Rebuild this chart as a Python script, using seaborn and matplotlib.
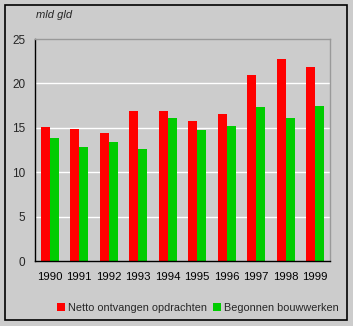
import matplotlib
matplotlib.use("Agg")
import matplotlib.pyplot as plt
import seaborn as sns
import pandas as pd
import numpy as np
from matplotlib.patches import Rectangle

years = ["1990", "1991", "1992", "1993", "1994", "1995", "1996", "1997", "1998", "1999"]
netto = [15.1, 14.9, 14.4, 16.9, 16.9, 15.8, 16.6, 20.9, 22.7, 21.8]
begonnen = [13.9, 12.8, 13.4, 12.6, 16.1, 14.8, 15.2, 17.3, 16.1, 17.4]
series_names = ["Netto ontvangen opdrachten", "Begonnen bouwwerken"]
yticks = [0, 5, 10, 15, 20, 25]

df = pd.DataFrame({
    "year": years * 2,
    "value": netto + begonnen,
    "series": [series_names[0]] * len(years) + [series_names[1]] * len(years),
})

sns.set_theme(style="white")
plt.rcParams["font.family"] = ["Liberation Sans", "DejaVu Sans"]
bg = "#CCCCCC"

fig = plt.figure(figsize=(3.53, 3.26), dpi=100, facecolor=bg)
ax = fig.add_axes([35 / 353, 1 - 261 / 326, (330 - 35) / 353, (261 - 39) / 326])
ax.set_facecolor(bg)

sns.barplot(data=df, x="year", y="value", hue="series", order=years,
            hue_order=series_names, palette=["#FF0000", "#00CC00"],
            width=0.61, saturation=1, ax=ax, legend=True)
for p in ax.patches:
    p.set_edgecolor("none")

ax.set_ylim(0, 25)
ax.set_xlim(-0.5, 9.5)
ax.set_yticks(yticks)
ax.set_yticklabels([str(t) for t in yticks], fontsize=8.5)
for t in [5, 10, 15, 20]:
    ax.axhline(t, color="white", lw=1, zorder=0.5)
ax.set_axisbelow(True)

ax.set_xticks(range(len(years)))
ax.set_xticklabels(years, fontsize=8.2)
ax.set_xticks(np.arange(-0.5, 10, 1), minor=True)
ax.tick_params(axis="x", which="major", length=0, pad=8, colors="black")
ax.tick_params(axis="x", which="minor", length=4, width=1, color="black", direction="out")
ax.tick_params(axis="y", which="major", length=4, width=1, color="black", direction="out", pad=3)
ax.set_xlabel("")
ax.set_ylabel("")

for side in ["left", "bottom"]:
    ax.spines[side].set_color("black")
    ax.spines[side].set_linewidth(1)
for side in ["top", "right"]:
    ax.spines[side].set_color("#999999")
    ax.spines[side].set_linewidth(1)
    ax.spines[side].set_visible(True)

leg = ax.get_legend()
handles, labels = ax.get_legend_handles_labels()
leg.remove()
fig.legend(handles, labels, loc="center", bbox_to_anchor=(198 / 353, 1 - 308 / 326),
           ncol=2, frameon=False, fontsize=7.8, handlelength=0.75, handleheight=0.75,
           handletextpad=0.3, columnspacing=0.5, borderpad=0)

fig.text(36 / 353, 1 - 15 / 326, "mld gld", fontsize=8, style="italic", va="center", ha="left")

fig.patches.append(Rectangle((5 / 353, 1 - 320 / 326), (347 - 5) / 353, (320 - 5) / 326,
                             transform=fig.transFigure, fill=False, edgecolor="black",
                             linewidth=1.2))

fig.savefig("out.png", dpi=100, facecolor=bg)
